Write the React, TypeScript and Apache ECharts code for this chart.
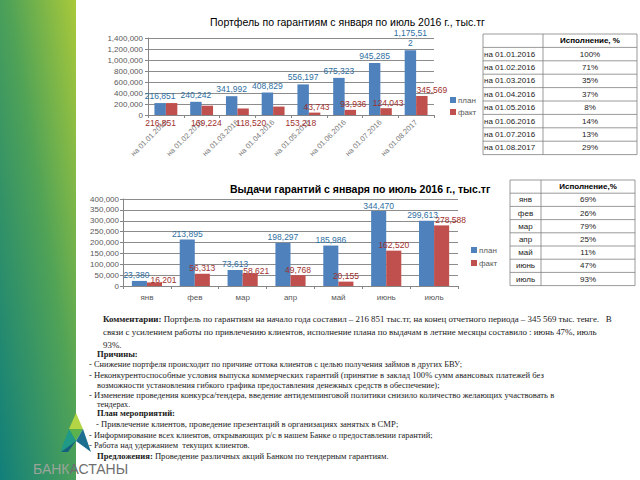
import React, { useEffect, useRef } from 'react';
import * as echarts from 'echarts';

// ---------- data ----------
const portfolioDates = ['на 01.01.2016', 'на 01.02.2016', 'на 01.03.2016', 'на 01.04.2016', 'на 01.05.2016', 'на 01.06.2016', 'на 01.07.2016', 'на 01.08.2017'];
const portfolioPlan = [216851, 240242, 341992, 408829, 556197, 675323, 945285, 1175512];
const portfolioFact = [216851, 169224, 118520, 153218, 43743, 93936, 124043, 345569];
const portfolioPct = ['100%', '71%', '35%', '37%', '8%', '14%', '13%', '29%'];
const portfolioTicks = [0, 200000, 400000, 600000, 800000, 1000000, 1200000, 1400000];

const months = ['янв', 'фев', 'мар', 'апр', 'май', 'июнь', 'июль'];
const issuePlan = [23380, 213895, 73613, 198297, 185986, 344470, 299613];
const issueFact = [16201, 56313, 58621, 49768, 20155, 162520, 278588];
const issuePct = ['69%', '26%', '79%', '25%', '11%', '47%', '93%'];
const issueTicks = [0, 50000, 100000, 150000, 200000, 250000, 300000, 350000, 400000];

const seriesNames = ['план', 'факт'];

// label layout for portfolio fact labels (Excel placed first ones below axis)
const factLabelBelow = [true, true, true, true, false, false, false, false];
const factLabelDx = [-11, -1, 8, 22, 2, 3, 2, 10];
// small nudges for issue labels
const issuePlanLabelOffset = [[-3, 0], [0, 0], [0, 0], [0, 0], [0, 0], [0, 0], [-4, 0]];
const issueFactLabelOffset = [[9, 3], [0, 0], [6, 3], [0, 0], [0, 0], [0, 0], [9, 0]];

const BLUE = '#4f81bd';
const RED = '#c0504d';
const BLUE_TXT = '#2f6f9f';
const RED_TXT = '#a0302e';
const SANS = '"Liberation Sans", Arial, sans-serif';
const SERIF = '"Liberation Serif", "Times New Roman", serif';

const fmt = (v: number) => v.toLocaleString('en-US');

function tableElements(x: number, y: number, w1: number, w2: number, rowH: number, header: string, rows: string[][], fs: number, firstCenter: boolean) {
  const els: any[] = [];
  const n = rows.length + 1;
  const h = n * rowH;
  const line = (x1: number, y1: number, x2: number, y2: number) => ({
    type: 'line', shape: { x1, y1, x2, y2 }, style: { stroke: '#808080', lineWidth: 0.8 }, silent: true,
  });
  els.push({ type: 'rect', shape: { x, y, width: w1 + w2, height: h }, style: { fill: '#fff', stroke: '#808080', lineWidth: 0.8 } });
  for (let i = 1; i < n; i++) els.push(line(x, y + i * rowH, x + w1 + w2, y + i * rowH));
  els.push(line(x + w1, y, x + w1, y + h));
  els.push({
    type: 'text', x: x + w1 + w2 / 2, y: y + rowH / 2,
    style: { text: header, font: `bold ${fs}px ${SANS}`, fill: '#000', align: 'center', verticalAlign: 'middle' },
  });
  rows.forEach((r, i) => {
    const cy = y + (i + 1) * rowH + rowH / 2;
    els.push({
      type: 'text', x: firstCenter ? x + w1 / 2 : x + 1, y: cy,
      style: { text: r[0], font: `${fs}px ${SANS}`, fill: '#222', align: firstCenter ? 'center' : 'left', verticalAlign: 'middle' },
    });
    els.push({ type: 'text', x: x + w1 + w2 / 2, y: cy, style: { text: r[1], font: `${fs}px ${SANS}`, fill: '#222', align: 'center', verticalAlign: 'middle' } });
  });
  return els;
}

const textLines: { x: number; y: number; t: string; fs: number }[] = [
  { x: 103, y: 319, fs: 8.9, t: '{b|Комментарии:} Портфель по гарантиям на начало года составил – 216 851 тыс.тг, на конец отчетного периода – 345 569 тыс. тенге.   В' },
  { x: 103, y: 332, fs: 8.9, t: 'связи с усилением работы по привлечению клиентов, исполнение плана по выдачам в летние месяцы составило : июнь 47%, июль' },
  { x: 103, y: 345, fs: 8.9, t: '93%.' },
  { x: 97, y: 354, fs: 8.6, t: '{b|Причины:}' },
  { x: 89, y: 364, fs: 8.4, t: '- Снижение портфеля происходит по причине оттока клиентов с целью получения займов в других БВУ;' },
  { x: 89, y: 375, fs: 8.6, t: '- Неконкурентоспособные условия выпуска коммерческих гарантий (принятие в заклад 100% сумм авансовых платежей без' },
  { x: 97, y: 385, fs: 8.4, t: 'возможности установления гибкого графика предоставления денежных средств в обеспечение);' },
  { x: 89, y: 395, fs: 8.6, t: '- Изменение проведения конкурса/тендера, введение антидемпинговой политики снизило количество желающих участвовать в' },
  { x: 97, y: 404, fs: 8.2, t: 'тендерах.' },
  { x: 97, y: 413, fs: 8.6, t: '{b|План мероприятий:}' },
  { x: 96, y: 424, fs: 8.6, t: '- Привлечение клиентов, проведение презентаций в организациях занятых в СМР;' },
  { x: 89, y: 435, fs: 8.4, t: '- Информирование всех клиентов, открывающих р/с в нашем Банке о предоставлении гарантий;' },
  { x: 89, y: 445, fs: 8.4, t: '- Работа над удержанием  текущих клиентов.' },
  { x: 97, y: 456, fs: 8.6, t: '{b|Предложения:} Проведение различных акций Банком по тендерным гарантиям.' },
];

export default function App() {
  const ref = useRef<HTMLDivElement>(null);
  useEffect(() => {
    document.body.style.margin = '0';
    const chart = echarts.init(ref.current!, null, { renderer: 'svg' });

    const graphics: any[] = [];
    // green stripe
    graphics.push({
      type: 'rect', z: -10, shape: { x: 0, y: 0, width: 76, height: 480 },
      style: {
        fill: new echarts.graphic.LinearGradient(0, 1, 1, 0, [
          { offset: 0, color: '#117f7a' },
          { offset: 0.55, color: '#4fa257' },
          { offset: 1, color: '#a9c93a' },
        ]),
      },
    });
    // logo
    graphics.push({ type: 'polygon', shape: { points: [[76, 413], [69, 429], [83, 429]] }, style: { fill: '#b3d444' } });
    graphics.push({ type: 'polygon', shape: { points: [[69, 429], [83, 429], [76, 441]] }, style: { fill: '#5bb24d' } });
    graphics.push({ type: 'polygon', shape: { points: [[69, 429], [76, 441], [68, 447], [61, 452], [62, 447]] }, style: { fill: '#1f9a86' } });
    graphics.push({ type: 'polygon', shape: { points: [[83, 429], [91, 452], [76, 441]] }, style: { fill: '#1c6f8f' } });
    graphics.push({ type: 'polygon', shape: { points: [[76, 441], [68, 452], [61, 452]] }, style: { fill: '#16607f' } });
    graphics.push({
      type: 'text', x: 33, y: 469,
      style: {
        text: '{a|БАНК}{b|АСТАНЫ}', verticalAlign: 'middle',
        rich: {
          a: { fontSize: 14, fontFamily: SANS, fill: '#9aa59a', color: '#9aa59a' },
          b: { fontSize: 14, fontFamily: SANS, fill: '#6f6f6f', color: '#6f6f6f' },
        },
      },
    });

    // tables
    graphics.push(...tableElements(483, 34, 60, 94, 13.4, 'Исполнение, %', portfolioDates.map((d, i) => [d, portfolioPct[i]]), 8, false));
    graphics.push(...tableElements(510, 180, 31, 94, 13.2, 'Исполнение,%', months.map((m, i) => [m, issuePct[i]]), 8, true));

    // paragraph text
    textLines.forEach((l) => {
      graphics.push({
        type: 'text', x: l.x, y: l.y,
        style: {
          text: l.t, font: `${l.fs}px ${SERIF}`, fill: '#1a1a1a', verticalAlign: 'middle',
          rich: { b: { fontWeight: 'bold', fontSize: l.fs, fontFamily: SERIF, fill: '#1a1a1a', color: '#1a1a1a' } },
        },
      });
    });

    const axisLabelStyle = { color: '#595959', fontSize: 8, fontFamily: SANS };

    const option: any = {
      animation: false,
      backgroundColor: '#fff',
      title: [
        { text: 'Портфель по гарантиям с января по июль 2016 г., тыс.тг', left: 205, top: 11, textStyle: { fontSize: 10.5, fontWeight: 'normal', color: '#000', fontFamily: SANS } },
        { text: 'Выдачи гарантий с января по июль 2016 г., тыс.тг', left: 225, top: 178, textStyle: { fontSize: 10.5, fontWeight: 'bold', color: '#000', fontFamily: SANS } },
      ],
      legend: [
        { data: seriesNames, orient: 'vertical', left: 445, top: 91, itemWidth: 6, itemHeight: 6, itemGap: 4, icon: 'rect', textStyle: { fontSize: 8, color: '#595959', fontFamily: SANS, padding: [0, 0, 0, -3] } },
        { data: seriesNames, orient: 'vertical', left: 466, top: 241, itemWidth: 6, itemHeight: 6, itemGap: 5, icon: 'rect', textStyle: { fontSize: 8, color: '#595959', fontFamily: SANS, padding: [0, 0, 0, -3] } },
      ],
      grid: [
        { left: 148, right: 206, top: 38, bottom: 365, containLabel: false },
        { left: 123, right: 182, top: 199, bottom: 194, containLabel: false },
      ],
      xAxis: [
        {
          type: 'category', gridIndex: 0, data: portfolioDates,
          axisLine: { lineStyle: { color: '#868686' } }, axisTick: { show: true, lineStyle: { color: '#868686' }, length: 3 },
          axisLabel: { ...axisLabelStyle, fontSize: 7.5, color: '#7a7a7a', rotate: 45, interval: 0, margin: 6 },
        },
        {
          type: 'category', gridIndex: 1, data: months,
          axisLine: { lineStyle: { color: '#868686' } }, axisTick: { show: true, lineStyle: { color: '#868686' }, length: 3 },
          axisLabel: { ...axisLabelStyle, interval: 0, margin: 7 },
        },
      ],
      yAxis: [
        {
          type: 'value', gridIndex: 0, min: portfolioTicks[0], max: portfolioTicks[portfolioTicks.length - 1], interval: portfolioTicks[1] - portfolioTicks[0],
          axisLine: { show: true, lineStyle: { color: '#868686' } }, axisTick: { show: true, length: 3, lineStyle: { color: '#868686' } },
          splitLine: { lineStyle: { color: '#8c8c8c', width: 1 } },
          axisLabel: { ...axisLabelStyle, formatter: (v: number) => fmt(v), margin: 5 },
        },
        {
          type: 'value', gridIndex: 1, min: issueTicks[0], max: issueTicks[issueTicks.length - 1], interval: issueTicks[1] - issueTicks[0],
          axisLine: { show: true, lineStyle: { color: '#868686' } }, axisTick: { show: true, length: 3, lineStyle: { color: '#868686' } },
          splitLine: { lineStyle: { color: '#8c8c8c', width: 1 } },
          axisLabel: { ...axisLabelStyle, formatter: (v: number) => fmt(v), margin: 4 },
        },
      ],
      series: [
        {
          name: seriesNames[0], type: 'bar', xAxisIndex: 0, yAxisIndex: 0, data: portfolioPlan,
          itemStyle: { color: BLUE }, barGap: '0%', barCategoryGap: '36%',
          label: {
            show: true, position: 'top', distance: 2, color: BLUE_TXT, fontSize: 8.5, fontFamily: SANS, lineHeight: 10,
            formatter: (p: any) => { const s = fmt(p.value); return s.length > 8 ? s.slice(0, 8) + '\n' + s.slice(8) : s; },
          },
        },
        {
          name: seriesNames[1], type: 'bar', xAxisIndex: 0, yAxisIndex: 0,
          data: portfolioFact.map((v, i) => ({
            value: v,
            label: factLabelBelow[i]
              ? { position: 'bottom', distance: 3, offset: [factLabelDx[i], 0] }
              : { position: 'top', distance: 1, offset: [factLabelDx[i], 0] },
          })),
          itemStyle: { color: RED }, barGap: '0%', barCategoryGap: '36%',
          label: { show: true, color: RED_TXT, fontSize: 8.5, fontFamily: SANS, formatter: (p: any) => fmt(p.value) },
        },
        {
          name: seriesNames[0], type: 'bar', xAxisIndex: 1, yAxisIndex: 1,
          data: issuePlan.map((v, i) => ({ value: v, label: { offset: issuePlanLabelOffset[i] } })),
          itemStyle: { color: BLUE }, barGap: '0%', barCategoryGap: '37%',
          label: { show: true, position: 'top', distance: 1, color: BLUE_TXT, fontSize: 8.5, fontFamily: SANS, formatter: (p: any) => fmt(p.value) },
        },
        {
          name: seriesNames[1], type: 'bar', xAxisIndex: 1, yAxisIndex: 1,
          data: issueFact.map((v, i) => ({ value: v, label: { offset: issueFactLabelOffset[i] } })),
          itemStyle: { color: RED }, barGap: '0%', barCategoryGap: '37%',
          label: { show: true, position: 'top', distance: 1, color: RED_TXT, fontSize: 8.5, fontFamily: SANS, formatter: (p: any) => fmt(p.value) },
        },
      ],
      graphic: { elements: graphics },
    };
    chart.setOption(option);
    return () => chart.dispose();
  }, []);
  return <div ref={ref} style={{ width: 640, height: 480 }} />;
}
